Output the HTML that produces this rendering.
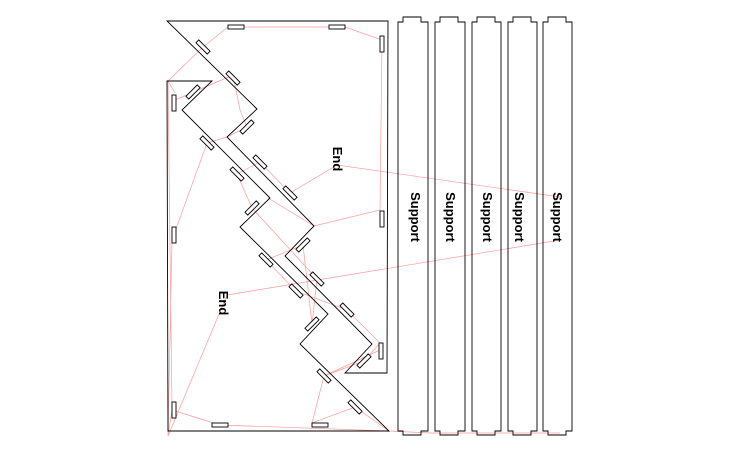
<!DOCTYPE html>
<html><head><style>body{margin:0;background:#fff}svg{display:block}text{font-family:"Liberation Sans",sans-serif;font-weight:bold;font-size:13px}</style></head><body>
<svg width="740" height="454" viewBox="0 0 740 454" xmlns="http://www.w3.org/2000/svg">
<g fill="none" stroke="#ff9a9a" stroke-width="0.7">
<polyline points="168,436 172,410 168,81 175,93"/>
<polyline points="168,81 203,47 228,27 345,27 382,40 380,210 314,226 268,198"/>
<polyline points="175,100 233,75 240,110 247,127 227,137 207,143 172,240 168,436"/>
<polyline points="237,174 260,162 290,193 337,165 560,197"/>
<polyline points="237,174 252,208 317,279 312,324 303,245 266,260 296,291 347,310 380,343 364,361 324,376 312,423 355,407 389,431"/>
<polyline points="172,410 220,425 389,431"/>
<polyline points="168,431 389,431 430,433 560,433"/>
<polyline points="227,295 560,240"/>
<polyline points="227,295 168,436"/>
<polyline points="324,376 380,350"/>
</g>
<g fill="none" stroke="#000" stroke-width="0.9">
<polygon points="167,21 388,21 387,373 345,373 372,344 285,256 314,226 227,137 257,109"/>
<polygon points="167,81 212,81 182,110 270,198 240,227 328,314 300,344 389,431 168,431"/>
</g>
<g fill="#fff" stroke="#000" stroke-width="0.9">
<rect x="228" y="25" width="16" height="4"/><rect x="329" y="25" width="16" height="4"/>
<rect x="380" y="36" width="4" height="16"/><rect x="172" y="95" width="4" height="16"/>
<rect x="380" y="211" width="4" height="16"/><rect x="172" y="227" width="4" height="16"/>
<rect x="379" y="343" width="4" height="16"/><rect x="172" y="402" width="4" height="16"/>
<rect x="212" y="423" width="16" height="4"/><rect x="312" y="423" width="16" height="4"/>
<g transform="translate(203,47) rotate(45)"><rect x="-8" y="-2" width="16" height="4"/></g>
<g transform="translate(233,78) rotate(45)"><rect x="-8" y="-2" width="16" height="4"/></g>
<g transform="translate(193,92) rotate(-45)"><rect x="-8" y="-2" width="16" height="4"/></g>
<g transform="translate(247,127) rotate(-45)"><rect x="-8" y="-2" width="16" height="4"/></g>
<g transform="translate(207,143) rotate(45)"><rect x="-8" y="-2" width="16" height="4"/></g>
<g transform="translate(260,162) rotate(45)"><rect x="-8" y="-2" width="16" height="4"/></g>
<g transform="translate(237,174) rotate(45)"><rect x="-8" y="-2" width="16" height="4"/></g>
<g transform="translate(290,193) rotate(45)"><rect x="-8" y="-2" width="16" height="4"/></g>
<g transform="translate(252,208) rotate(-45)"><rect x="-8" y="-2" width="16" height="4"/></g>
<g transform="translate(303,245) rotate(-45)"><rect x="-8" y="-2" width="16" height="4"/></g>
<g transform="translate(266,260) rotate(45)"><rect x="-8" y="-2" width="16" height="4"/></g>
<g transform="translate(317,279) rotate(45)"><rect x="-8" y="-2" width="16" height="4"/></g>
<g transform="translate(296,291) rotate(45)"><rect x="-8" y="-2" width="16" height="4"/></g>
<g transform="translate(347,310) rotate(45)"><rect x="-8" y="-2" width="16" height="4"/></g>
<g transform="translate(312,324) rotate(-45)"><rect x="-8" y="-2" width="16" height="4"/></g>
<g transform="translate(364,361) rotate(-45)"><rect x="-8" y="-2" width="16" height="4"/></g>
<g transform="translate(324,376) rotate(45)"><rect x="-8" y="-2" width="16" height="4"/></g>
<g transform="translate(355,407) rotate(45)"><rect x="-8" y="-2" width="16" height="4"/></g>
</g>
<g fill="none" stroke="#000" stroke-width="0.9">
<path d="M398,431 V22 H403 V17 H421 V22 H428 V431 H421 V435 H403 V431 Z"/>
<path d="M435,431 V22 H440 V17 H458 V22 H465 V431 H458 V435 H440 V431 Z"/>
<path d="M472,431 V22 H477 V17 H495 V22 H501 V431 H495 V435 H477 V431 Z"/>
<path d="M508,431 V22 H513 V17 H531 V22 H537 V431 H531 V435 H513 V431 Z"/>
<path d="M543,431 V22 H548 V17 H566 V22 H572 V431 H566 V435 H548 V431 Z"/>
</g>
<g fill="#000" text-anchor="middle">
<text transform="translate(411,217) rotate(90)">Support</text>
<text transform="translate(446,217) rotate(90)">Support</text>
<text transform="translate(483,217) rotate(90)">Support</text>
<text transform="translate(515,217) rotate(90)">Support</text>
<text transform="translate(553,217) rotate(90)">Support</text>
<text transform="translate(333,159) rotate(90)">End</text>
<text transform="translate(219,303) rotate(90)">End</text>
</g>
</svg>
</body></html>
